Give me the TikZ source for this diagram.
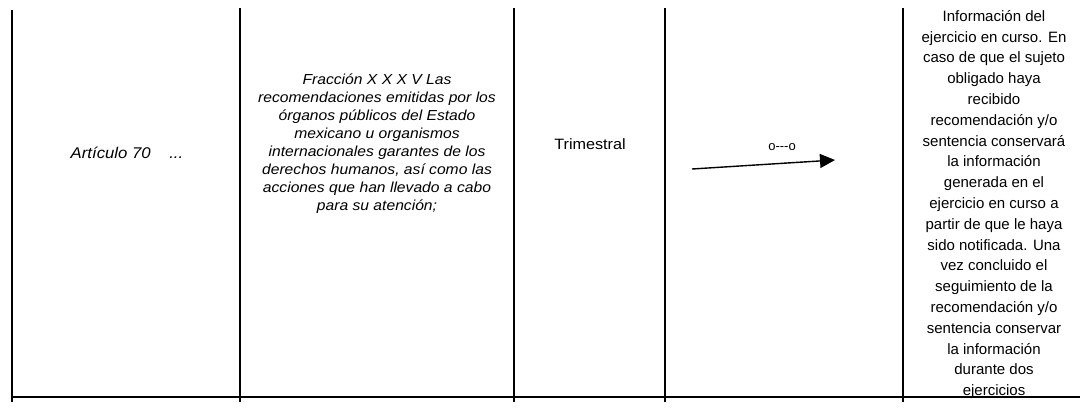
\documentclass[tikz,border=0pt]{standalone}
\usepackage{fontspec}
\setmainfont{Liberation Sans}
\newfontfamily\cellfont[FakeStretch=1.08]{Liberation Sans}
\usetikzlibrary{arrows.meta}
\tikzset{
  gridline/.style={line width=1.2pt, black},
  ruleline/.style={line width=1.6pt, black},
  celltext/.style={inner sep=0pt, align=center, text=black},
  flowarrow/.style={line width=1.4pt, -{Triangle[length=15pt,width=14pt]}}
}
\begin{document}
\begin{tikzpicture}[x=1pt,y=-1pt]
\useasboundingbox (0,0) rectangle (1086,413);
\fill[white] (0,0) rectangle (1086,413);
% grid
\draw[gridline] (12,10) -- (12,402);
\draw[gridline] (240,8) -- (240,402);
\draw[gridline] (514,8) -- (514,402);
\draw[gridline] (665,8) -- (665,402);
\draw[gridline] (903,8) -- (903,402);
\draw[ruleline] (12,397) -- (1080,397);
% texts
\node[celltext, font=\cellfont\itshape\fontsize{15.5}{18}\selectfont] (art) at (127,153) {Artículo 70\ \ \ \ ...};
\node[celltext, font=\cellfont\itshape\fontsize{14.5}{18}\selectfont] (frac) at (377,144)
 {Fracción X X X V Las\\ recomendaciones emitidas por los\\ órganos públicos del Estado\\ mexicano u organismos\\ internacionales garantes de los\\ derechos humanos, así como las\\ acciones que han llevado a cabo\\ para su atención;};
\node[celltext, font=\cellfont\fontsize{15}{18}\selectfont] (per) at (590,144) {Trimestral};
\node[celltext, font=\fontsize{13}{15}\selectfont] (oo) at (782,147) {o-\kern0pt-\kern0pt-o};
\coordinate (as) at (692,169);
\coordinate (ae) at (835,160);
\draw[flowarrow] (as) -- (ae);
\node[celltext, font=\fontsize{15}{20.8}\selectfont] (info) at (994,204.5)
 {Información del\\ ejercicio en curso. En\\ caso de que el sujeto\\ obligado haya\\ recibido\\ recomendación y/o\\ sentencia conservará\\ la información\\ generada en el\\ ejercicio en curso a\\ partir de que le haya\\ sido notificada. Una\\ vez concluido el\\ seguimiento de la\\ recomendación y/o\\ sentencia conservar\\ la información\\ durante dos\\ ejercicios};
\end{tikzpicture}
\end{document}
